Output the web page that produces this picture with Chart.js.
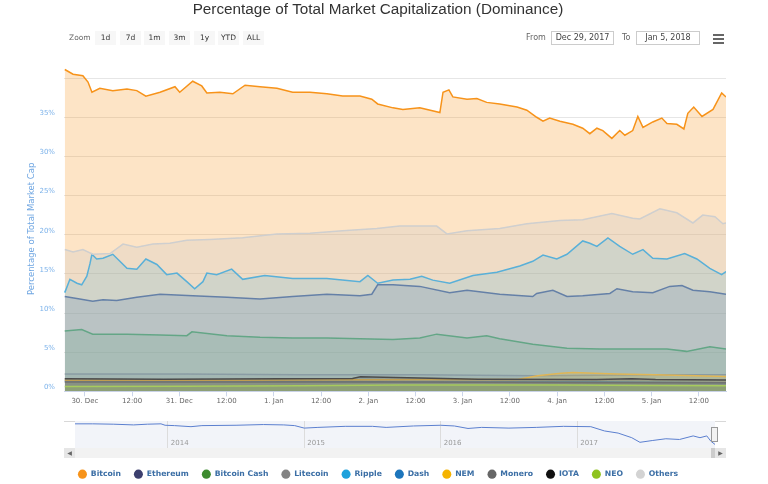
<!DOCTYPE html>
<html><head><meta charset="utf-8">
<script src="https://cdn.jsdelivr.net/npm/chart.js@4.4.1/dist/chart.umd.min.js"></script>
<style>
body{margin:0;background:#fff;width:768px;height:484px;overflow:hidden;position:relative;font-family:"DejaVu Sans",sans-serif;}
#main{position:absolute;left:0;top:0;}
.lbl{position:absolute;color:#666;font-size:7.5px;line-height:14px;top:31px;}
.btn{position:absolute;top:31px;width:21px;height:14px;background:#f7f7f7;color:#333;font-size:7.5px;line-height:14px;text-align:center;}
.inp{position:absolute;top:31px;height:12px;border:1px solid #ccc;color:#444;font-size:8px;line-height:12px;text-align:center;background:#fff;}
.hb{position:absolute;left:713px;width:11px;height:2px;background:#666;}
#navwrap{position:absolute;left:75px;top:421px;width:640px;height:27px;background:#f2f4f9;}
#navtop{position:absolute;left:64px;top:421px;width:662px;height:1px;background:#d8d8d8;}
#sbar{position:absolute;left:64px;top:448px;width:662px;height:10px;background:#f2f2f2;}
.sbtn{position:absolute;top:448px;width:11px;height:10px;background:#e6e6e6;color:#666;font-size:6px;line-height:10px;text-align:center;}
#thumb{position:absolute;left:711px;top:448px;width:4px;height:10px;background:#ccc;}
#handle{position:absolute;left:711px;top:427px;width:5px;height:13px;background:#f2f2f2;border:1px solid #999;}
</style></head>
<body>
<canvas id="main" width="768" height="484"></canvas>
<div class="lbl" style="left:69px">Zoom</div>
<div class="btn" style="left:95px">1d</div>
<div class="btn" style="left:120px">7d</div>
<div class="btn" style="left:144px">1m</div>
<div class="btn" style="left:169px">3m</div>
<div class="btn" style="left:194px">1y</div>
<div class="btn" style="left:218px">YTD</div>
<div class="btn" style="left:243px">ALL</div>
<div class="lbl" style="left:526px;font-size:8px">From</div>
<div class="inp" style="left:551px;width:61px">Dec 29, 2017</div>
<div class="lbl" style="left:622px;font-size:8px">To</div>
<div class="inp" style="left:636px;width:62px">Jan 5, 2018</div>
<div class="hb" style="top:34px"></div><div class="hb" style="top:38px"></div><div class="hb" style="top:42px"></div>
<div id="navtop"></div>
<div id="navwrap"><canvas id="nav" width="640" height="27"></canvas></div>
<div id="sbar"></div>
<div class="sbtn" style="left:64px">&#9664;</div>
<div class="sbtn" style="left:715px">&#9654;</div>
<div id="thumb"></div>
<div id="handle"></div>
<script>
// ---- data: [hours since 30 Dec 2017 00:00, % of total market cap] ----
const bitcoin = [[-5.1,41.1],[-3.0,40.5],[-0.5,40.3],[0.8,39.5],[1.8,38.2],[3.8,38.7],[7.1,38.4],[10.7,38.6],[13.2,38.4],[15.5,37.7],[19.1,38.2],[22.9,38.9],[24.1,38.2],[27.4,39.6],[29.7,39.0],[31.0,38.1],[34.3,38.2],[37.6,38.0],[40.7,39.1],[44.5,38.9],[48.8,38.7],[52.8,38.2],[57.2,38.2],[61.5,38.0],[65.5,37.7],[69.9,37.7],[72.9,37.3],[74.4,36.7],[78.3,36.2],[80.8,36.0],[85.1,36.2],[90.2,35.6],[91.0,38.2],[92.5,38.5],[93.5,37.6],[97.1,37.3],[99.6,37.4],[102.1,36.9],[105.4,36.7],[109.8,36.3],[112.3,35.9],[114.8,35.0],[116.4,34.5],[118.1,34.9],[120.7,34.5],[124.0,34.1],[126.5,33.6],[128.3,32.9],[130.1,33.6],[131.6,33.3],[133.9,32.3],[135.9,33.3],[137.2,32.7],[139.2,33.3],[140.5,35.1],[141.8,33.7],[144.3,34.4],[146.6,34.9],[147.9,34.2],[150.4,34.1],[152.2,33.5],[153.2,35.5],[154.7,36.3],[156.8,35.1],[159.6,36.0],[161.8,38.1],[162.9,37.6]];
const ethereum = [[-5.1,12.1],[-1.3,11.8],[2.0,11.5],[4.6,11.7],[8.1,11.6],[13.2,12.0],[19.1,12.4],[27.4,12.2],[36.1,12.0],[44.5,11.8],[52.8,12.1],[61.5,12.4],[69.9,12.2],[72.9,12.4],[74.4,13.6],[78.3,13.6],[85.1,13.4],[92.7,12.6],[97.1,12.9],[105.4,12.4],[113.8,12.1],[114.8,12.5],[118.9,12.9],[122.5,12.1],[126.5,12.2],[133.4,12.5],[135.2,13.1],[139.2,12.7],[144.3,12.6],[148.6,13.4],[151.7,13.5],[154.5,12.9],[158.8,12.7],[162.9,12.4]];
const bitcoinCash = [[-5.1,7.7],[-0.8,7.9],[2.0,7.3],[10.7,7.3],[19.1,7.2],[25.9,7.1],[27.2,7.6],[36.1,7.1],[44.5,6.9],[52.8,6.8],[61.5,6.8],[69.9,6.7],[78.3,6.6],[85.1,6.8],[89.4,7.3],[97.1,6.8],[102.1,7.1],[105.4,6.7],[113.8,6.0],[122.5,5.5],[130.8,5.4],[139.2,5.4],[147.9,5.4],[152.9,5.1],[158.8,5.7],[162.9,5.4]];
const litecoin = [[-5.1,2.2],[25,2.2],[55,2.1],[85,2.1],[115,2.0],[145,2.1],[162.9,2.1]];
const ripple = [[-5.1,12.6],[-3.8,14.3],[-2.0,13.8],[-0.8,13.6],[0.5,14.7],[1.3,16.3],[1.8,17.5],[3.0,16.9],[4.6,17.0],[7.1,17.5],[8.9,16.6],[10.7,15.7],[13.2,15.6],[15.5,16.9],[18.3,16.2],[20.8,14.9],[23.4,15.1],[25.9,14.0],[27.9,13.1],[30.0,14.0],[31.0,15.1],[33.5,14.9],[37.3,15.6],[40.1,14.3],[45.7,14.8],[52.8,14.4],[61.5,14.4],[69.9,14.0],[71.9,14.8],[74.4,13.8],[78.3,14.2],[82.6,14.3],[85.6,14.7],[88.4,14.2],[92.7,13.8],[98.6,14.8],[104.7,15.2],[110.5,16.0],[113.8,16.6],[116.4,17.4],[119.9,16.9],[122.5,17.5],[126.5,19.2],[128.3,18.9],[130.1,18.5],[132.9,19.6],[135.9,18.5],[139.2,17.5],[141.8,18.1],[144.3,17.0],[147.9,16.9],[152.4,17.6],[155.5,16.9],[158.8,15.7],[161.8,14.9],[162.9,15.3]];
const dash = [[-5.1,1.3],[40,1.3],[85,1.2],[130,1.2],[162.9,1.1]];
const nem = [[-5.1,1.4],[40,1.4],[85,1.5],[110,1.5],[115,2.0],[121,2.3],[124,2.4],[135,2.2],[145,2.1],[162.9,1.9]];
const monero = [[-5.1,1.2],[40,1.2],[85,1.2],[130,1.1],[162.9,1.1]];
const iota = [[-5.1,1.6],[20,1.55],[50,1.6],[68,1.65],[70,1.85],[79,1.75],[100,1.55],[130,1.5],[139,1.6],[145,1.5],[162.9,1.45]];
const neo = [[-5.1,0.6],[25,0.65],[55,0.7],[80,0.8],[120,0.8],[145,0.75],[162.9,0.7]];
const others = [[-5.1,18.1],[-3.0,17.8],[-0.5,18.1],[2.0,17.5],[6.4,17.6],[9.7,18.8],[13.2,18.4],[17.3,18.8],[21.6,18.9],[25.9,19.3],[31.8,19.4],[40.1,19.6],[48.8,20.1],[57.2,20.2],[65.5,20.5],[74.2,20.8],[80.0,21.1],[89.4,21.1],[92.0,20.1],[97.1,20.5],[105.4,20.8],[112.3,21.4],[120.7,21.8],[126.5,21.9],[133.9,22.7],[139.2,22.1],[141.0,22.0],[146.1,23.3],[150.4,22.8],[154.5,21.5],[157.0,22.5],[160.1,22.3],[162.1,21.4],[162.9,21.5]];

const seriesNames = ['Bitcoin','Ethereum','Bitcoin Cash','Litecoin','Ripple','Dash','NEM','Monero','IOTA','NEO','Others'];
const seriesData = [bitcoin, ethereum, bitcoinCash, litecoin, ripple, dash, nem, monero, iota, neo, others];

const xTickHours = [0,12,24,36,48,60,72,84,96,108,120,132,144,156];
const xTickLabels = ['30. Dec','12:00','31. Dec','12:00','1. Jan','12:00','2. Jan','12:00','3. Jan','12:00','4. Jan','12:00','5. Jan','12:00'];
const yTickValues = [0,5,10,15,20,25,30,35,40];
const yTickLabels = ['0%','5%','10%','15%','20%','25%','30%','35%',''];

// navigator: [year, Bitcoin % of total market cap]
const navigator = [[2013.32,94],[2013.45,94],[2013.6,93],[2013.75,91],[2013.85,93],[2013.95,94],[2013.98,90],[2014.05,89],[2014.17,86],[2014.25,89],[2014.5,90],[2014.7,92],[2014.85,91],[2014.93,89],[2015.0,82],[2015.1,84],[2015.3,87],[2015.5,87],[2015.6,84],[2015.8,88],[2016.0,90],[2016.1,88],[2016.2,81],[2016.3,84],[2016.5,82],[2016.7,84],[2016.9,87],[2017.1,86],[2017.2,74],[2017.3,68],[2017.4,55],[2017.46,42],[2017.55,47],[2017.65,52],[2017.75,50],[2017.85,60],[2017.9,55],[2017.95,60],[2017.98,45],[2018.01,36]];
const navYears = [2014,2015,2016,2017];
const navYearLabels = ['2014','2015','2016','2017'];

// ---- styles ----
const lineColors = ['#f7931a','#4d5d8f','#4c9a5a','#8a8a8a','#35a8de','#1c75bc','#e8b030','#666666','#222222','#9ccc3a','#cfcfcf'];
const fillColors = ['rgba(247,147,26,0.25)','rgba(84,110,160,0.22)','rgba(60,150,80,0.18)','rgba(130,130,130,0.2)','rgba(30,161,220,0.18)','rgba(28,117,188,0.2)','rgba(245,179,0,0.2)','rgba(102,102,102,0.2)','rgba(17,17,17,0.2)','rgba(140,200,30,0.25)','rgba(200,200,200,0.25)'];
const legendColors = ['#f7931a','#3c3f6e','#3d8b2f','#838383','#1ea1dc','#1c75bc','#f5b300','#666666','#111111','#8fc31f','#d3d3d3'];

const N = seriesNames.length;
const datasets = seriesNames.map((name, i) => ({
  label: name,
  data: seriesData[i].map(p => ({x: p[0], y: p[1]})),
  borderColor: lineColors[i],
  backgroundColor: fillColors[i],
  borderWidth: 1.5,
  pointRadius: 0,
  tension: 0,
  fill: 'origin',
  order: N - i
}));

new Chart(document.getElementById('main'), {
  type: 'line',
  data: {datasets},
  options: {
    responsive: false, animation: false,
    layout: {padding: {left: 30, right: 42, top: 0, bottom: -4}},
    plugins: {
      tooltip: {enabled: false},
      title: {display: true, text: 'Percentage of Total Market Capitalization (Dominance)', color: '#333',
        font: {family: 'Liberation Sans', size: 15.3, weight: 'normal'}, padding: {top: 1, bottom: 47}},
      legend: {
        position: 'bottom',
        labels: {
          usePointStyle: true, pointStyle: 'circle', pointStyleWidth: 9, boxHeight: 6.5,
          padding: 13, color: '#3b6ea5',
          font: {family: 'DejaVu Sans', size: 7.7, weight: 'bold'},
          sort: (a, b) => a.datasetIndex - b.datasetIndex,
          generateLabels: (chart) => {
            const items = Chart.defaults.plugins.legend.labels.generateLabels(chart);
            items.forEach(it => { it.fillStyle = legendColors[it.datasetIndex]; it.strokeStyle = legendColors[it.datasetIndex]; it.lineWidth = 0; });
            return items;
          }
        }
      }
    },
    scales: {
      x: {
        type: 'linear', min: -5.3, max: 162.9,
        afterBuildTicks: s => { s.ticks = xTickHours.map(v => ({value: v})); },
        afterFit: s => { s.height = 66; },
        grid: {drawOnChartArea: false, drawTicks: true, tickLength: 5, color: '#ccd6eb'},
        border: {display: true, color: '#ccd6eb'},
        ticks: {color: '#666', padding: 1, maxRotation: 0, autoSkip: false,
          font: {family: 'DejaVu Sans', size: 7},
          callback: (v) => { const k = xTickHours.indexOf(v); return k >= 0 ? xTickLabels[k] : ''; }}
      },
      y: {
        min: 0, max: 41.5,
        afterBuildTicks: s => { s.ticks = yTickValues.map(v => ({value: v})); },
        afterFit: s => { s.width = 34; },
        grid: {color: '#e6e6e6', drawTicks: false},
        border: {display: false},
        ticks: {color: '#7cb2ea', padding: 9, labelOffset: -4, font: {family: 'DejaVu Sans', size: 7},
          callback: (v) => { const k = yTickValues.indexOf(v); return k >= 0 ? yTickLabels[k] : ''; }},
        title: {display: true, text: 'Percentage of Total Market Cap', color: '#6fa6e2',
          font: {family: 'DejaVu Sans', size: 8.5}, padding: {top: -3, bottom: 0}}
      }
    }
  }
});

new Chart(document.getElementById('nav'), {
  type: 'line',
  data: {datasets: [{data: navigator.map(p => ({x: p[0], y: p[1]})), borderColor: '#5b7fcf', borderWidth: 1,
    pointRadius: 0, tension: 0, fill: false}]},
  options: {
    responsive: false, animation: false,
    layout: {padding: 0},
    plugins: {legend: {display: false}, tooltip: {enabled: false}},
    scales: {
      x: {type: 'linear', min: 2013.32, max: 2018.01, position: {y: 52},
        afterBuildTicks: s => { s.ticks = navYears.map(v => ({value: v})); },
        grid: {color: '#dcdcdc', drawTicks: false},
        border: {display: false},
        ticks: {align: 'start', padding: 0, labelOffset: 3, color: '#999',
          font: {family: 'DejaVu Sans', size: 7},
          callback: (v) => { const k = navYears.indexOf(v); return k >= 0 ? navYearLabels[k] : ''; }}
      },
      y: {display: false, min: 26, max: 102}
    }
  }
});
</script>
</body></html>
